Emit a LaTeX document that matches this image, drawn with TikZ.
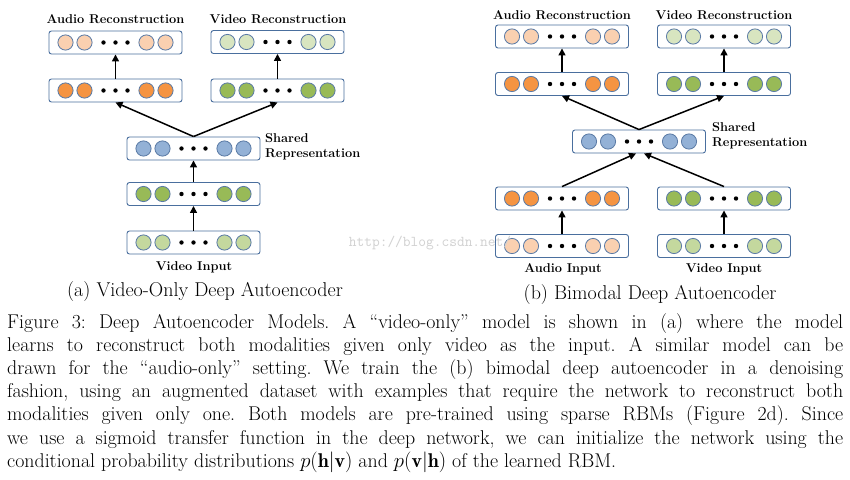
\documentclass[tikz,border=0pt]{standalone}
\usepackage{fontspec}
\usetikzlibrary{arrows.meta,calc}
\definecolor{boxb}{HTML}{4A6F9E}
\definecolor{cb}{HTML}{5B7BA6}
\definecolor{peach}{HTML}{FAD0B0}
\definecolor{orng}{HTML}{F59442}
\definecolor{grn}{HTML}{98BA57}
\definecolor{lgrn}{HTML}{D8E5C0}
\definecolor{igrn}{HTML}{C4D89E}
\definecolor{blu}{HTML}{93B1D6}
\newcommand{\mylayer}[4]{%
 \node[lay] (#1) at (#2,#3) {};
 \foreach \dx in {-50,-31,31,50} \fill[#4,draw=cb,line width=0.8pt] ($(#1.center)+(\dx,0)$) circle (7.6);
 \foreach \dx in {-12,0,12} \fill ($(#1.center)+(\dx,0)$) circle (2.2);
}
\begin{document}
\frenchspacing
\begin{tikzpicture}[x=1pt,y=-1pt,
 lay/.style={draw=boxb,line width=0.9pt,rounded corners=2.5pt,minimum width=133pt,minimum height=23pt,inner sep=0pt,fill=white},
 lab/.style={font=\fontsize{12.8}{14}\selectfont\bfseries,inner sep=0pt},
 arr/.style={-{Triangle[length=7pt,width=7pt]},line width=1.5pt},
 subcap/.style={font=\fontsize{20}{22}\selectfont,inner sep=0pt},
 body/.style={font=\fontsize{19.9}{23}\selectfont,inner sep=0pt,anchor=base west}]
\useasboundingbox (0,0) rectangle (850,479);
\fill[white] (0,0) rectangle (850,479);
% left
\mylayer{la1}{115.5}{42.5}{peach}
\mylayer{lv1}{277.5}{42}{lgrn}
\mylayer{la2}{115.5}{90.5}{orng}
\mylayer{lv2}{277.5}{90.5}{grn}
\mylayer{ls}{193.5}{148.5}{blu}
\mylayer{lh}{193.5}{194}{grn}
\mylayer{li}{193.5}{242.5}{igrn}
\node[lab] (tla) at (115.5,19) {Audio Reconstruction};
\node[lab] (tlv) at (278,19) {Video Reconstruction};
\node[lab,align=left,anchor=north west] (tls) at (265,133) {Shared\\[1pt]Representation};
\node[lab] (tli) at (194,267) {Video Input};
\node[subcap] (cla) at (205,292) {(a) Video-Only Deep Autoencoder};
\draw[arr] (li.north) -- (lh.south);
\draw[arr] (lh.north) -- (ls.south);
\draw[arr] (ls.north) -- (la2.south);
\draw[arr] (ls.north) -- (lv2.south);
\draw[arr] (la2.north) -- (la1.south);
\draw[arr] (lv2.north) -- (lv1.south);
% right
\mylayer{ra1}{562}{36.5}{peach}
\mylayer{rv1}{724}{36.5}{lgrn}
\mylayer{ra2}{562}{84}{orng}
\mylayer{rv2}{724}{84}{grn}
\mylayer{rs}{639}{141.5}{blu}
\mylayer{rah}{562}{198.5}{orng}
\mylayer{rvh}{724}{198.5}{grn}
\mylayer{rai}{562}{246}{peach}
\mylayer{rvi}{724}{246}{igrn}
\node[lab] (tra) at (562,15) {Audio Reconstruction};
\node[lab] (trv) at (724,15) {Video Reconstruction};
\node[lab,align=left,anchor=north west] (trs) at (712,122) {Shared\\[1pt]Representation};
\node[lab] (trai) at (563,269) {Audio Input};
\node[lab] (trvi) at (724,269) {Video Input};
\node[subcap] (crb) at (650,295) {(b) Bimodal Deep Autoencoder};
\draw[arr] (rai.north) -- (rah.south);
\draw[arr] (rvi.north) -- (rvh.south);
\draw[arr] (rah.north) -- ($(rs.south)+(-3,0)$);
\draw[arr] (rvh.north) -- ($(rs.south)+(5,0)$);
\draw[arr] (rs.north) -- (ra2.south);
\draw[arr] (rs.north) -- (rv2.south);
\draw[arr] (ra2.north) -- (ra1.south);
\draw[arr] (rv2.north) -- (rv1.south);
\node[font=\ttfamily\fontsize{15}{15}\selectfont,text=black!18,inner sep=0pt] (wm) at (430,243) {http://blog.csdn.net/};
% body text
\node[body] (b1) at (7,328) {\makebox[836pt][s]{Figure 3: Deep Autoencoder Models. A ``video-only'' model is shown in (a) where the model}};
\node[body] (b2) at (7,351) {\makebox[836pt][s]{learns to reconstruct both modalities given only video as the input. A similar model can be}};
\node[body] (b3) at (7,374) {\makebox[836pt][s]{drawn for the ``audio-only'' setting. We train the (b) bimodal deep autoencoder in a denoising}};
\node[body] (b4) at (7,397) {\makebox[836pt][s]{fashion, using an augmented dataset with examples that require the network to reconstruct both}};
\node[body] (b5) at (7,420) {\makebox[836pt][s]{modalities given only one. Both models are pre-trained using sparse RBMs (Figure 2d). Since}};
\node[body] (b6) at (7,444) {\makebox[836pt][s]{we use a sigmoid transfer function in the deep network, we can initialize the network using the}};
\node[body] (b7) at (7,467) {conditional probability distributions $p(\mathbf{h}|\mathbf{v})$ and $p(\mathbf{v}|\mathbf{h})$ of the learned RBM.};
\end{tikzpicture}
\end{document}
